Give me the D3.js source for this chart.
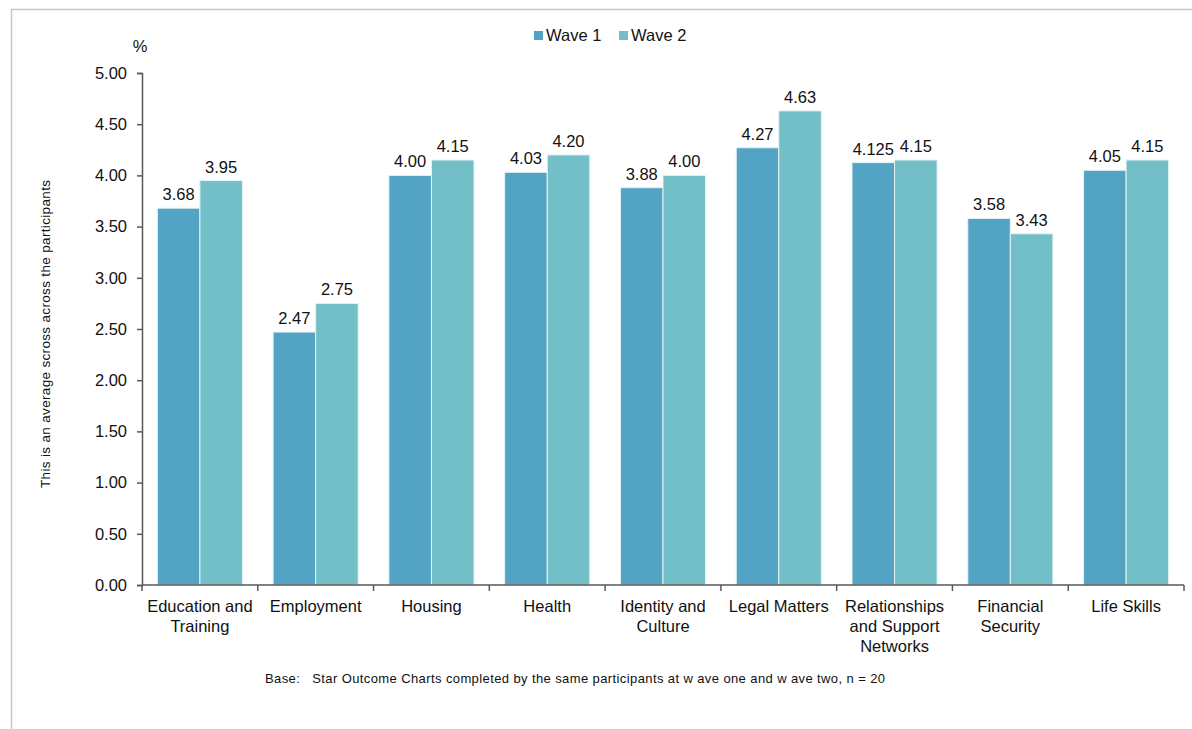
<!DOCTYPE html>
<html>
<head>
<meta charset="utf-8">
<script src="https://cdn.jsdelivr.net/npm/d3@7/dist/d3.min.js"></script>
<style>
  html, body { margin: 0; padding: 0; background: #fff; }
  svg { display: block; font-family: "Liberation Sans", Arial, sans-serif; }
</style>
</head>
<body>
<svg id="chart" width="1192" height="729"></svg>
<script>
const categories = [
  ["Education and", "Training"],
  ["Employment"],
  ["Housing"],
  ["Health"],
  ["Identity and", "Culture"],
  ["Legal Matters"],
  ["Relationships", "and Support", "Networks"],
  ["Financial", "Security"],
  ["Life Skills"]
];
const wave1 = [3.68, 2.47, 4.00, 4.03, 3.88, 4.27, 4.125, 3.58, 4.05];
const wave2 = [3.95, 2.75, 4.15, 4.20, 4.00, 4.63, 4.15, 3.43, 4.15];
const wave1Labels = ["3.68", "2.47", "4.00", "4.03", "3.88", "4.27", "4.125", "3.58", "4.05"];
const wave2Labels = ["3.95", "2.75", "4.15", "4.20", "4.00", "4.63", "4.15", "3.43", "4.15"];
const seriesNames = ["Wave 1", "Wave 2"];
const colors = ["#52a3c4", "#72bfc8"];
const yTicks = [0, 0.5, 1, 1.5, 2, 2.5, 3, 3.5, 4, 4.5, 5];

(function () {
const svg = d3.select("#chart");
const fs = 16.5;

// outer frame
svg.append("path")
  .attr("d", "M11.5,729 L11.5,9.5 L1192,9.5")
  .attr("fill", "none").attr("stroke", "#c6c6c6").attr("stroke-width", 1.5);

const plotLeft = 142, plotRight = 1184, plotTop = 73, plotBottom = 585;
const idx = d3.range(categories.length);
const x = d3.scaleBand().domain(idx).range([plotLeft, plotRight]).paddingInner(0.265).paddingOuter(0.1325);
const xOuter = d3.scaleBand().domain(idx).range([plotLeft, plotRight]);
const x1 = d3.scaleBand().domain([0, 1]).range([0, x.bandwidth()]);
const y = d3.scaleLinear().domain([0, 5]).range([plotBottom, plotTop]);

const axisColor = "#595959";

// bars
const series = [wave1, wave2];
const labels = [wave1Labels, wave2Labels];
series.forEach((vals, s) => {
  svg.append("g").selectAll("rect").data(idx).join("rect")
    .attr("x", i => x(i) + x1(s))
    .attr("y", i => y(vals[i]))
    .attr("width", x1.bandwidth())
    .attr("height", i => plotBottom - y(vals[i]))
    .attr("fill", colors[s])
    .attr("stroke", "#e6f3f6").attr("stroke-width", 1);
  svg.append("g").selectAll("text").data(idx).join("text")
    .attr("x", i => x(i) + x1(s) + x1.bandwidth() / 2)
    .attr("y", i => y(vals[i]) - 8)
    .attr("text-anchor", "middle")
    .attr("font-size", fs).attr("fill", "#111")
    .text(i => labels[s][i]);
});

// y axis
const yAxis = d3.axisLeft(y).tickValues(yTicks).tickFormat(d3.format(".2f")).tickSize(5).tickPadding(10);
const gy = svg.append("g").attr("transform", `translate(${plotLeft},0)`).call(yAxis);
gy.select(".domain").attr("stroke", axisColor).attr("stroke-width", 1.5);
gy.selectAll(".tick line").attr("stroke", axisColor).attr("stroke-width", 1.5);
gy.selectAll(".tick text").attr("font-size", fs).attr("fill", "#111").attr("font-family", "Liberation Sans, Arial, sans-serif");

// x axis
const gx = svg.append("g").attr("transform", `translate(0,${plotBottom})`);
gx.append("line").attr("x1", plotLeft).attr("x2", plotRight).attr("y1", 0).attr("y2", 0)
  .attr("stroke", axisColor).attr("stroke-width", 1.5);
gx.selectAll("line.tk").data(d3.range(categories.length + 1)).join("line")
  .attr("class", "tk")
  .attr("x1", i => i < categories.length ? xOuter(i) : plotRight)
  .attr("x2", i => i < categories.length ? xOuter(i) : plotRight)
  .attr("y1", 0).attr("y2", 6)
  .attr("stroke", axisColor).attr("stroke-width", 1.5);
const catText = gx.selectAll("text.cat").data(idx).join("text")
  .attr("class", "cat")
  .attr("text-anchor", "middle")
  .attr("font-size", fs).attr("fill", "#111");
catText.each(function(i) {
  const t = d3.select(this);
  categories[i].forEach((line, k) => {
    t.append("tspan").attr("x", xOuter(i) + xOuter.bandwidth() / 2).attr("y", 27 + k * 20).text(line);
  });
});

// % unit
svg.append("text").attr("x", 140).attr("y", 52).attr("text-anchor", "middle")
  .attr("font-size", fs).attr("fill", "#111").text("%");

// y axis title
svg.append("text")
  .attr("transform", "translate(50,334) rotate(-90)")
  .attr("text-anchor", "middle").attr("font-size", 13.5).attr("fill", "#111")
  .attr("textLength", 308).attr("lengthAdjust", "spacing")
  .text("This is an average scross across the participants");

// legend
const legendX = [534, 619];
seriesNames.forEach((n, s) => {
  svg.append("rect").attr("x", legendX[s]).attr("y", 31).attr("width", 9).attr("height", 9).attr("fill", colors[s]);
  svg.append("text").attr("x", legendX[s] + 12).attr("y", 41).attr("font-size", fs).attr("fill", "#111").text(n);
});

// footnote
svg.append("text").attr("x", 265).attr("y", 683).attr("font-size", 13).attr("fill", "#111")
  .attr("xml:space", "preserve")
  .attr("textLength", 620).attr("lengthAdjust", "spacing")
  .text("Base:   Star Outcome Charts completed by the same participants at w ave one and w ave two, n = 20");
})();
</script>
</body>
</html>
